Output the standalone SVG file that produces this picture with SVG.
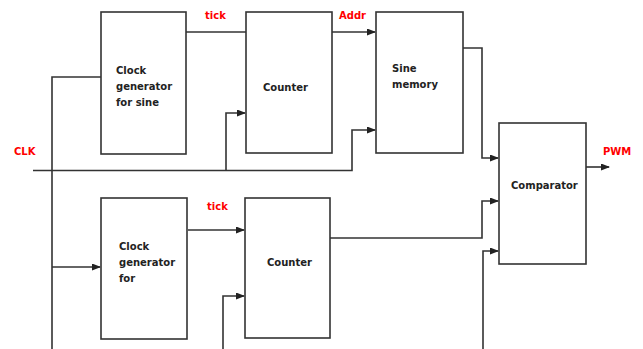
<svg xmlns="http://www.w3.org/2000/svg" width="643" height="349" viewBox="0 0 643 349">
<defs>
<marker id="ah" markerWidth="9" markerHeight="7" refX="8" refY="3.5" orient="auto" markerUnits="userSpaceOnUse">
<path d="M0,0 L9,3.5 L0,7 z" fill="#222"/>
</marker>
<style>
.box{fill:#fff;stroke:#333;stroke-width:1.6}
.w{fill:none;stroke:#333;stroke-width:1.6}
.a{marker-end:url(#ah)}
.t{font-family:"DejaVu Sans",sans-serif;font-size:10px;font-weight:bold;fill:#222}
.r{font-family:"DejaVu Sans",sans-serif;font-size:10px;font-weight:bold;fill:#f00}
</style>
</defs>
<rect width="643" height="349" fill="#fff"/>
<g id="connectors">
<polyline class="w" points="52,349 52,77 101,77"/>
<polyline class="w" points="33,170.5 352,170.5 352,130 375,130" style="marker-end:url(#ah)"/>
<polyline class="w a" points="226,170.5 226,113 245,113"/>
<polyline class="w" points="186,32 246,32"/>
<polyline class="w a" points="332,32 375,32"/>
<polyline class="w a" points="463,48 482,48 482,158 498,158"/>
<polyline class="w a" points="586,167 609,167"/>
<polyline class="w a" points="52,267 100,267"/>
<polyline class="w a" points="188,230 244,230"/>
<polyline class="w a" points="223,349 223,296 244,296"/>
<polyline class="w a" points="330,238 482,238 482,201 498,201"/>
<polyline class="w a" points="483,349 483,251 498,251"/>
</g>
<g id="clkgen-sine">
<rect class="box" x="101" y="12" width="85" height="142"/>
<text class="t" x="116" y="74">Clock</text>
<text class="t" x="116" y="90">generator</text>
<text class="t" x="116" y="106">for sine</text>
</g>
<g id="counter-top">
<rect class="box" x="246" y="12" width="86" height="141"/>
<text class="t" x="263" y="91">Counter</text>
</g>
<g id="sine-memory">
<rect class="box" x="376" y="12" width="87" height="141"/>
<text class="t" x="392" y="72">Sine</text>
<text class="t" x="392" y="88">memory</text>
</g>
<g id="comparator">
<rect class="box" x="499" y="123" width="87" height="141"/>
<text class="t" x="511" y="189">Comparator</text>
</g>
<g id="clkgen-bottom">
<rect class="box" x="101" y="198" width="86" height="141"/>
<text class="t" x="119" y="250">Clock</text>
<text class="t" x="119" y="266">generator</text>
<text class="t" x="119" y="282">for</text>
</g>
<g id="counter-bottom">
<rect class="box" x="245" y="198" width="85" height="140"/>
<text class="t" x="267" y="266">Counter</text>
</g>
<g id="labels">
<text class="r" x="205" y="19">tick</text>
<text class="r" x="339" y="19">Addr</text>
<text class="r" x="14" y="155">CLK</text>
<text class="r" x="603" y="155">PWM</text>
<text class="r" x="207" y="210">tick</text>
</g>
</svg>
